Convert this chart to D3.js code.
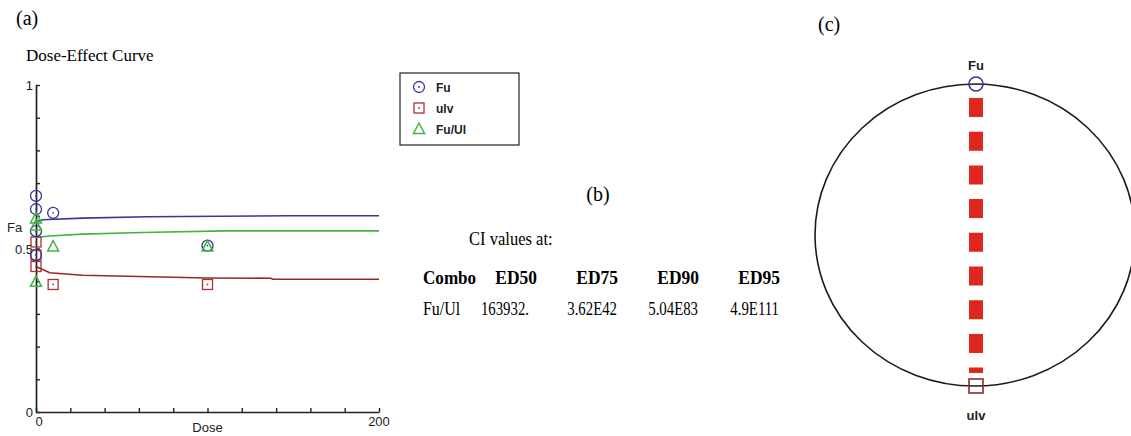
<!DOCTYPE html>
<html>
<head>
<meta charset="utf-8">
<script src="https://cdn.jsdelivr.net/npm/d3@7"></script>
<style>
body { margin: 0; background: #fff; }
svg { display: block; }
.sans { font-family: "Liberation Sans", Arial, sans-serif; }
.serif { font-family: "Liberation Serif", "Times New Roman", serif; }
</style>
</head>
<body>
<svg id="fig" width="1131" height="436"></svg>
<script>
// (a) dose-effect curve, fitted lines
const fuCurveDose = [0, 4, 27, 65, 148, 200];
const fuCurveFa = [0.582, 0.588, 0.593, 0.597, 0.600, 0.600];
const ulvCurveDose = [0, 8, 27, 80, 100, 137, 138, 200];
const ulvCurveFa = [0.445, 0.426, 0.418, 0.412, 0.410, 0.409, 0.406, 0.406];
const comboCurveDose = [0, 8, 27, 62, 110, 200];
const comboCurveFa = [0.534, 0.538, 0.544, 0.549, 0.554, 0.554];

// (a) measured points
const fuDose = [0, 0, 0, 0, 10, 100];
const fuFa = [0.661, 0.620, 0.553, 0.480, 0.609, 0.509];
const ulvDose = [0, 0, 0, 10, 100];
const ulvFa = [0.520, 0.480, 0.445, 0.390, 0.390];
const comboDose = [0, 0, 0, 10, 100];
const comboFa = [0.592, 0.570, 0.398, 0.506, 0.506];

const legendNames = ["Fu", "ulv", "Fu/Ul"];
const yTickLabels = [0, 0.5, 1];
const xTickLabels = [0, 200];

// (b) CI table
const ciLevels = ["ED50", "ED75", "ED90", "ED95"];
const ciCombo = "Fu/Ul";
const ciValues = ["163932.", "3.62E42", "5.04E83", "4.9E111"];

// (c) polygonogram
const polyDrugs = ["Fu", "ulv"];

const BLUE = "#37379c", RED = "#a83232", GREEN = "#43b443";
const LINE_RED = "#9c2626", DASH_RED = "#e0271f";

let svg = d3.select("#fig");

// ---------- panel (a) ----------
let x = d3.scaleLinear().domain([0, 200]).range([36, 379]);
let y = d3.scaleLinear().domain([0, 1]).range([412, 85]);

svg.append("text").attr("class", "serif").attr("x", 16).attr("y", 25)
	.attr("font-size", 20).text("(a)");
svg.append("text").attr("class", "serif").attr("x", 26).attr("y", 61)
	.attr("font-size", 17).text("Dose-Effect Curve");

let yAxis = svg.append("g").attr("transform", "translate(" + x(0) + ",0)")
	.call(d3.axisRight(y).tickValues(d3.range(0, 11).map(i => i / 10)).tickSize(4).tickSizeOuter(0).tickFormat(""));
let xAxis = svg.append("g").attr("transform", "translate(0," + y(0) + ")")
	.call(d3.axisTop(x).tickValues(d3.range(0, 201, 20)).tickSize(4).tickSizeOuter(0).tickFormat(""));
[yAxis, xAxis].forEach(a => {
	a.select(".domain").attr("stroke", "#222").attr("stroke-width", 1.7);
	a.selectAll(".tick line").attr("stroke", "#222").attr("stroke-width", 1.4);
});

svg.selectAll(".ylab").data(yTickLabels).enter().append("text")
	.attr("class", "sans").attr("x", 33).attr("y", d => y(d) + 5)
	.attr("text-anchor", "end").attr("font-size", 13).attr("fill", "#222")
	.text(d => d);
svg.append("text").attr("class", "sans").attr("x", 7).attr("y", 232)
	.attr("font-size", 13).attr("fill", "#222").text("Fa");
svg.selectAll(".xlab").data(xTickLabels).enter().append("text")
	.attr("class", "sans").attr("x", d => x(d) + (d === 0 ? 3 : 0)).attr("y", 426)
	.attr("text-anchor", "middle").attr("font-size", 13).attr("fill", "#222")
	.text(d => d);
svg.append("text").attr("class", "sans").attr("x", x(100)).attr("y", 432)
	.attr("text-anchor", "middle").attr("font-size", 13).attr("fill", "#222").text("Dose");

let line = d3.line().x(d => x(d[0])).y(d => y(d[1]));
[[fuCurveDose, fuCurveFa, BLUE], [comboCurveDose, comboCurveFa, GREEN], [ulvCurveDose, ulvCurveFa, LINE_RED]]
	.forEach(([ds, fs, col]) => {
		svg.append("path").datum(d3.zip(ds, fs)).attr("d", line)
			.attr("fill", "none").attr("stroke", col).attr("stroke-width", 1.6);
	});

function circleMark(g, cx, cy, col) {
	g.append("circle").attr("cx", cx).attr("cy", cy).attr("r", 5.5)
		.attr("fill", "none").attr("stroke", col).attr("stroke-width", 1.3);
	g.append("circle").attr("cx", cx).attr("cy", cy).attr("r", 0.9).attr("fill", col);
}
function squareMark(g, cx, cy, col) {
	g.append("rect").attr("x", cx - 5).attr("y", cy - 5).attr("width", 10).attr("height", 10)
		.attr("fill", "none").attr("stroke", col).attr("stroke-width", 1.3);
	g.append("circle").attr("cx", cx).attr("cy", cy).attr("r", 0.9).attr("fill", col);
}
function triMark(g, cx, cy, col) {
	g.append("path").attr("d", "M" + cx + "," + (cy - 6) + "L" + (cx + 5.5) + "," + (cy + 4.5) + "L" + (cx - 5.5) + "," + (cy + 4.5) + "Z")
		.attr("fill", "none").attr("stroke", col).attr("stroke-width", 1.5);
}

let pts = svg.append("g");
d3.zip(ulvDose, ulvFa).forEach(d => squareMark(pts, x(d[0]), y(d[1]), RED));
d3.zip(fuDose, fuFa).forEach(d => circleMark(pts, x(d[0]), y(d[1]), BLUE));
d3.zip(comboDose, comboFa).forEach(d => triMark(pts, x(d[0]), y(d[1]), GREEN));

// legend
let leg = svg.append("g");
leg.append("rect").attr("x", 400).attr("y", 73).attr("width", 119).attr("height", 72)
	.attr("fill", "#fff").attr("stroke", "#222").attr("stroke-width", 1.2);
let legY = d3.scalePoint().domain(legendNames).range([87, 129]);
circleMark(leg, 419, legY("Fu"), BLUE);
squareMark(leg, 419, legY("ulv"), RED);
triMark(leg, 419, legY("Fu/Ul"), GREEN);
leg.selectAll(".lt").data(legendNames).enter().append("text")
	.attr("class", "sans").attr("x", 436).attr("y", d => legY(d) + 4.5)
	.attr("font-size", 12).attr("font-weight", "bold").attr("fill", "#222").text(d => d);

// ---------- panel (b) ----------
// the table text in the figure is squeezed horizontally
function narrowText(tx, ty, str, size, bold, anchor, sx) {
	return svg.append("text").attr("class", "serif")
		.attr("transform", "translate(" + tx + "," + ty + ") scale(" + sx + ",1)")
		.attr("text-anchor", anchor).attr("font-size", size)
		.attr("font-weight", bold ? "bold" : "normal").text(str);
}
svg.append("text").attr("class", "serif").attr("x", 598).attr("y", 201)
	.attr("text-anchor", "middle").attr("font-size", 20).text("(b)");
narrowText(469, 245, "CI values at:", 18, false, "start", 0.92);
let col = d3.scalePoint().domain(ciLevels).range([537, 780]);
narrowText(423, 284, "Combo", 19, true, "start", 0.9);
ciLevels.forEach(d => narrowText(col(d), 284, d, 19, true, "end", 0.92));
narrowText(423, 315, ciCombo, 19, false, "start", 0.84);
ciValues.forEach((d, i) => narrowText(col(ciLevels[i]) - (i === 0 ? 8 : 1), 315, d, 19, false, "end", 0.78));

// ---------- panel (c) ----------
svg.append("text").attr("class", "serif").attr("x", 818).attr("y", 31)
	.attr("font-size", 20).text("(c)");
let pos = d3.scalePoint().domain(polyDrugs).range([84, 386]);
let cx = 975, cxDrug = 976;
svg.append("ellipse").attr("cx", cx).attr("cy", (pos("Fu") + pos("ulv")) / 2)
	.attr("rx", 160).attr("ry", (pos("ulv") - pos("Fu")) / 2)
	.attr("fill", "none").attr("stroke", "#1c1c1c").attr("stroke-width", 1.6);

// thick dashed connection between the two drugs
svg.append("line").attr("x1", cxDrug).attr("x2", cxDrug)
	.attr("y1", pos("Fu") + 14).attr("y2", pos("ulv") - 13)
	.attr("stroke", DASH_RED).attr("stroke-width", 14).attr("stroke-dasharray", "19 14.7");

svg.append("circle").attr("cx", cxDrug).attr("cy", pos("Fu")).attr("r", 7)
	.attr("fill", "none").attr("stroke", BLUE).attr("stroke-width", 1.6);
svg.append("rect").attr("x", cxDrug - 7).attr("y", pos("ulv") - 7).attr("width", 14).attr("height", 14)
	.attr("fill", "none").attr("stroke", "#8a2a2a").attr("stroke-width", 1.6);
svg.append("text").attr("class", "sans").attr("x", cxDrug).attr("y", pos("Fu") - 14)
	.attr("text-anchor", "middle").attr("font-size", 13).attr("font-weight", "bold").attr("fill", "#222").text("Fu");
svg.append("text").attr("class", "sans").attr("x", cxDrug).attr("y", pos("ulv") + 34)
	.attr("text-anchor", "middle").attr("font-size", 13).attr("font-weight", "bold").attr("fill", "#222").text("ulv");
</script>
</body>
</html>
